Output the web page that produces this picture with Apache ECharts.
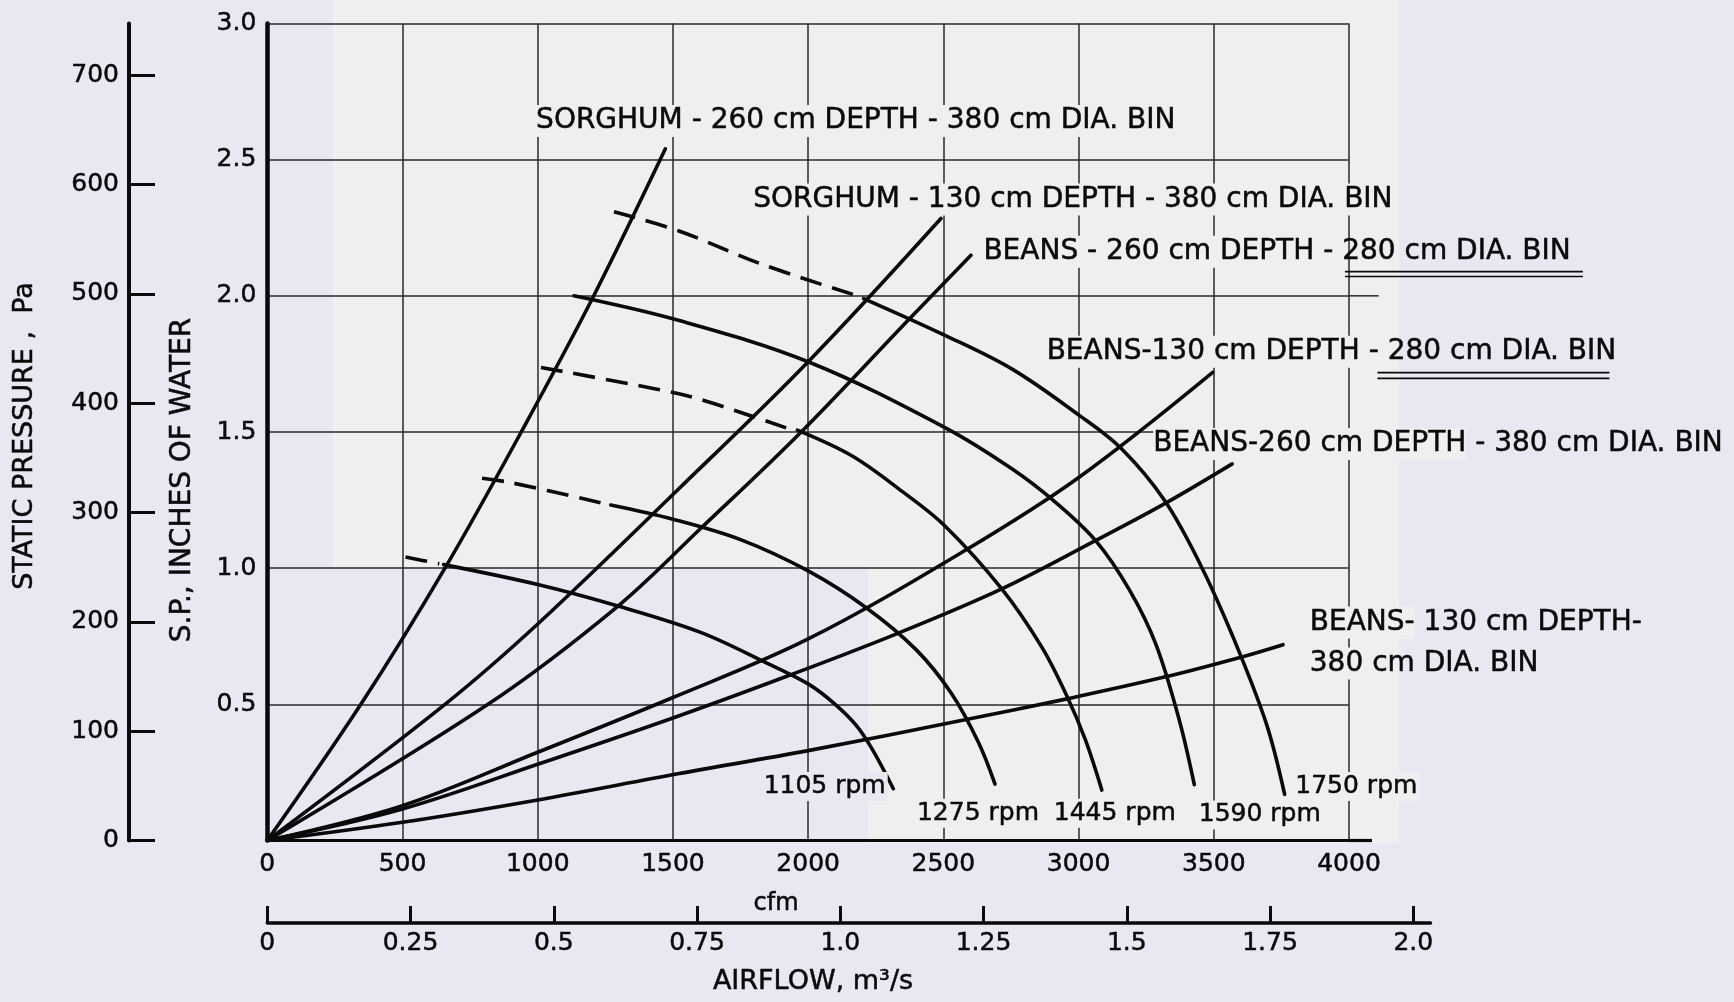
<!DOCTYPE html>
<html>
<head>
<meta charset="utf-8">
<script src="https://cdn.jsdelivr.net/npm/echarts@6/dist/echarts.min.js"></script>
<style>
html,body{margin:0;padding:0;background:#e8e8f2;}
#c{width:1734px;height:1002px;}
</style>
</head>
<body>
<div id="c"></div>
<script>
// ---------------- DATA (cfm, inches of water) ----------------
const cfmTicks = [0, 500, 1000, 1500, 2000, 2500, 3000, 3500, 4000];
const inchTicks = [0, 0.5, 1.0, 1.5, 2.0, 2.5, 3.0];
const paTicks = [0, 100, 200, 300, 400, 500, 600, 700];
const m3sTicks = [0, 0.25, 0.5, 0.75, 1.0, 1.25, 1.5, 1.75, 2.0];
const m3sLabels = ['0', '0.25', '0.5', '0.75', '1.0', '1.25', '1.5', '1.75', '2.0'];

// system resistance curves (bins)
const sorghum260 = [[0,0],[346,0.5],[657,1.0],[950,1.52],[1202,1.99],[1472,2.54]];
const sorghum130 = [[0,0],[657,0.5],[1000,0.795],[1520,1.29],[2002,1.76],[2491,2.284]];
const beans260_280 = [[0,0],[816,0.5],[1296,0.86],[1607,1.15],[1978,1.504],[2373,1.914],[2602,2.149]];
const beans130_280 = [[0,0],[500,0.128],[1000,0.324],[1500,0.525],[2000,0.74],[2580,1.065],[3002,1.334],[3496,1.719]];
const beans260_380 = [[0,0],[500,0.116],[1000,0.28],[1500,0.45],[1926,0.605],[2327,0.759],[2716,0.924],[3064,1.102],[3317,1.236],[3568,1.383]];
const beans130_380 = [[0,0],[500,0.067],[1000,0.149],[1518,0.245],[2000,0.33],[2580,0.443],[2957,0.52],[3317,0.60],[3607,0.675],[3756,0.719]];

// fan curves
const rpm1105Dash = [[511,1.041],[636,1.016]];
const rpm1105 = [[652,1.013],[1000,0.94],[1300,0.86],[1600,0.765],[1840,0.655],[2000,0.575],[2100,0.50],[2180,0.42],[2240,0.33],[2315,0.19]];
const rpm1275Dash = [[794,1.33],[901,1.314],[1256,1.235]];
const rpm1275 = [[1270,1.232],[1500,1.18],[1750,1.105],[2000,0.99],[2216,0.854],[2400,0.70],[2530,0.54],[2630,0.36],[2691,0.207]];
const rpm1445Dash = [[1012,1.737],[1441,1.657],[1600,1.62],[1928,1.512]];
const rpm1445 = [[1960,1.507],[2163,1.412],[2350,1.28],[2506,1.155],[2716,0.924],[2864,0.71],[2957,0.53],[3025,0.37],[3086,0.185]];
const rpm1590 = [[1134,2.0],[1520,1.91],[2002,1.757],[2506,1.516],[2756,1.363],[2917,1.24],[3064,1.10],[3188,0.92],[3286,0.72],[3373,0.44],[3428,0.205]];
const rpm1750Dash = [[1282,2.309],[1520,2.239],[1829,2.116],[2176,2.002]];
const rpm1750 = [[2205,1.99],[2506,1.855],[2756,1.73],[3004,1.56],[3157,1.44],[3317,1.25],[3447,1.02],[3570,0.75],[3694,0.43],[3762,0.169]];

// annotation texts and their data anchors (cfm, in. of water)
const annotationTexts = [
  '{p|SORGHUM - 260 cm DEPTH - 380 cm DIA. BIN}',
  '{p|SORGHUM - 130 cm DEPTH - 380 cm DIA. BIN}',
  '{p|BEANS - 260 cm DEPTH - }{n|280 cm DIA. BIN}',
  '{p|BEANS-130 cm DEPTH - }{n|280 cm DIA. BIN}',
  '{p|BEANS-260 cm DEPTH}{n| - 380 cm DIA. BIN}',
  '{p|BEANS-}{n| 130 cm DEPTH-}\n{p|380 }{n|cm DIA. BIN}'
];
const annotationAnchors = [[994,2.642],[1797,2.354],[2648,2.162],[2882,1.795],[3276,1.456],[3855,0.725]];
const rpmTexts = ['{l|1105 rpm}', '{p|1275 rpm}', '{p|1445 rpm}', '{p|1590 rpm}', '{p|1750 rpm}'];
const rpmAnchors = [[1828,0.198],[2395,0.100],[2901,0.100],[3437,0.094],[3794,0.198]];
// double underlines under "280 cm DIA. BIN" (cfm start, cfm end, in.)
const underlines = [[3985,4865,2.089],[3985,4865,2.071],[4105,4963,1.718],[4105,4963,1.697]];
// short overshoots of the drawn frame past 4000 cfm (cfm start, cfm end, in.)
const frameOvershoots = [[4000,4085,0],[4000,4110,2.0]];

// unit conversions
const PA_PER_INH2O = 249.089;
const M3S_PER_CFM = 0.00047194745;
const m3sAxisMax = 2.03;

// ---------------- LAYOUT / STYLE ----------------
const FONT = 'DejaVu Sans';
const INK = '#0a0a0a';
const PAPER = '#efefef';
const LAV = '#e8e8f2';
const TB = {textBorderColor: INK, textBorderWidth: 0.5};
const G = {left: 267.3, top: 23.5, width: 1081.7, height: 817};
const paMax = inchTicks[inchTicks.length - 1] * PA_PER_INH2O;
const m3W = G.width * m3sAxisMax / (cfmTicks[cfmTicks.length - 1] * M3S_PER_CFM);

const chart = echarts.init(document.getElementById('c'), null, {renderer: 'canvas'});

const curveLine = {color: INK, width: 3.6, cap: 'round'};
function curve(data, dashed) {
  return {
    type: 'line', xAxisIndex: 0, yAxisIndex: 0, data: data,
    showSymbol: false, symbol: 'none', smooth: 0.35, silent: true, z: 3,
    lineStyle: Object.assign({}, curveLine, dashed ? {type: [22, 11], cap: 'butt'} : {})
  };
}
const series = [];
[sorghum260, sorghum130, beans260_280, beans130_280, beans260_380, beans130_380].forEach(d => series.push(curve(d, false)));
[rpm1105, rpm1275, rpm1445, rpm1590, rpm1750].forEach(d => series.push(curve(d, false)));
[rpm1105Dash, rpm1275Dash, rpm1445Dash, rpm1750Dash].forEach(d => series.push(curve(d, true)));

const AFS = 28;
const rich = {
  p: Object.assign({backgroundColor: PAPER, padding: [2, 0], fontSize: AFS, fontFamily: FONT, color: INK, lineHeight: 41}, TB),
  n: Object.assign({padding: [2, 0], fontSize: AFS, fontFamily: FONT, color: INK, lineHeight: 41}, TB)
};
const labelScatter = {
  type: 'scatter', xAxisIndex: 0, yAxisIndex: 0, symbolSize: 0, silent: true, z: 5,
  itemStyle: {opacity: 1, color: INK},
  emphasis: {disabled: true}
};
series.push(Object.assign({}, labelScatter, {
  data: annotationTexts.map((t, i) => ({value: annotationAnchors[i], label: {formatter: t}})),
  label: {show: true, position: 'right', distance: 0, align: 'left', verticalAlign: 'middle', color: INK, opacity: 1, rich: rich}
}));
const richRpm = {
  p: Object.assign({backgroundColor: PAPER, padding: [2, 2], fontSize: 25, fontFamily: FONT, color: INK}, TB),
  l: Object.assign({backgroundColor: LAV, padding: [2, 2], fontSize: 25, fontFamily: FONT, color: INK}, TB)
};
series.push(Object.assign({}, labelScatter, {
  data: rpmTexts.map((t, i) => ({value: rpmAnchors[i], label: {formatter: t}})),
  label: {show: true, position: 'right', distance: 0, align: 'left', verticalAlign: 'middle', color: INK, opacity: 1, rich: richRpm}
}));

const tickFont = Object.assign({fontFamily: FONT, fontSize: 25, color: INK}, TB);
const gridLine = {show: true, lineStyle: {color: '#2a2a2a', width: 1.5}};
const titleStyle = (txt, size) => ({text: txt, fontFamily: FONT, fontSize: size, fill: INK, stroke: INK, lineWidth: 0.5,
  align: 'center', verticalAlign: 'middle', textAlign: 'center', textVerticalAlign: 'middle'});

const baseGraphic = [
  {type: 'polygon', z: -100, silent: true,
   shape: {points: [[333,0],[1399,0],[1399,843],[868,843],[868,567],[333,567]]},
   style: {fill: PAPER}},
  {type: 'text', x: 25, y: 436, rotation: Math.PI / 2, silent: true, style: titleStyle('STATIC PRESSURE ,  Pa', 27)},
  {type: 'text', x: 183, y: 480, rotation: Math.PI / 2, silent: true, style: titleStyle('S.P., INCHES OF WATER', 28)},
  {type: 'text', x: 776, y: 904, silent: true, style: titleStyle('cfm', 24)},
  {type: 'text', x: 813, y: 982, silent: true, style: titleStyle('AIRFLOW, m³/s', 27)}
];

const option = {
  backgroundColor: LAV,
  animation: false,
  grid: [
    {left: G.left, top: G.top, width: G.width, height: G.height},
    {left: 129, top: G.top, width: 10, height: G.height},
    {left: G.left, top: 900, width: m3W, height: 23}
  ],
  xAxis: [
    {gridIndex: 0, type: 'value', min: cfmTicks[0], max: cfmTicks[cfmTicks.length - 1], interval: 500,
     axisLine: {show: true, onZero: false, lineStyle: {color: INK, width: 3.2}},
     axisTick: {show: false},
     axisLabel: Object.assign({margin: 11, formatter: v => String(v)}, tickFont),
     splitLine: gridLine},
    {gridIndex: 1, type: 'value', show: false, min: 0, max: 1},
    {gridIndex: 2, type: 'value', min: 0, max: m3sAxisMax, position: 'bottom',
     axisLine: {show: true, lineStyle: {color: INK, width: 3.5}},
     axisTick: {show: true, inside: true, length: 17, customValues: m3sTicks, lineStyle: {color: INK, width: 3}},
     axisLabel: Object.assign({margin: 8, customValues: m3sTicks,
       formatter: v => { const i = m3sTicks.findIndex(t => Math.abs(t - v) < 1e-9); return i >= 0 ? m3sLabels[i] : ''; }}, tickFont),
     splitLine: {show: false}}
  ],
  yAxis: [
    {gridIndex: 0, type: 'value', min: inchTicks[0], max: inchTicks[inchTicks.length - 1], interval: 0.5,
     axisLine: {show: true, lineStyle: {color: INK, width: 4.5}},
     axisTick: {show: false},
     axisLabel: Object.assign({margin: 11, formatter: v => v === 0 ? '' : v.toFixed(1)}, tickFont),
     splitLine: gridLine},
    {gridIndex: 1, type: 'value', min: 0, max: paMax,
     axisLine: {show: true, lineStyle: {color: INK, width: 4}},
     axisTick: {show: true, inside: true, length: 26, customValues: paTicks, lineStyle: {color: INK, width: 3}},
     axisLabel: Object.assign({margin: 10, customValues: paTicks}, tickFont),
     splitLine: {show: false}},
    {gridIndex: 2, type: 'value', show: false, min: 0, max: 1}
  ],
  graphic: baseGraphic,
  series: series
};
chart.setOption(option);

// decorations placed through the library's own coordinate conversion
const toPx = p => chart.convertToPixel({gridIndex: 0}, p);
const extra = [];
underlines.forEach(u => {
  const a = toPx([u[0], u[2]]), b = toPx([u[1], u[2]]);
  extra.push({type: 'line', silent: true, z: 10, shape: {x1: a[0], y1: a[1], x2: b[0], y2: b[1]},
              style: {stroke: INK, lineWidth: 1.6}});
});
frameOvershoots.forEach((u, i) => {
  const a = toPx([u[0], u[2]]), b = toPx([u[1], u[2]]);
  extra.push({type: 'line', silent: true, z: 1, shape: {x1: a[0], y1: a[1], x2: b[0], y2: b[1]},
              style: {stroke: i === 0 ? INK : '#2a2a2a', lineWidth: i === 0 ? 3.2 : 1.5}});
});
chart.setOption({graphic: baseGraphic.concat(extra)});
</script>
</body>
</html>
